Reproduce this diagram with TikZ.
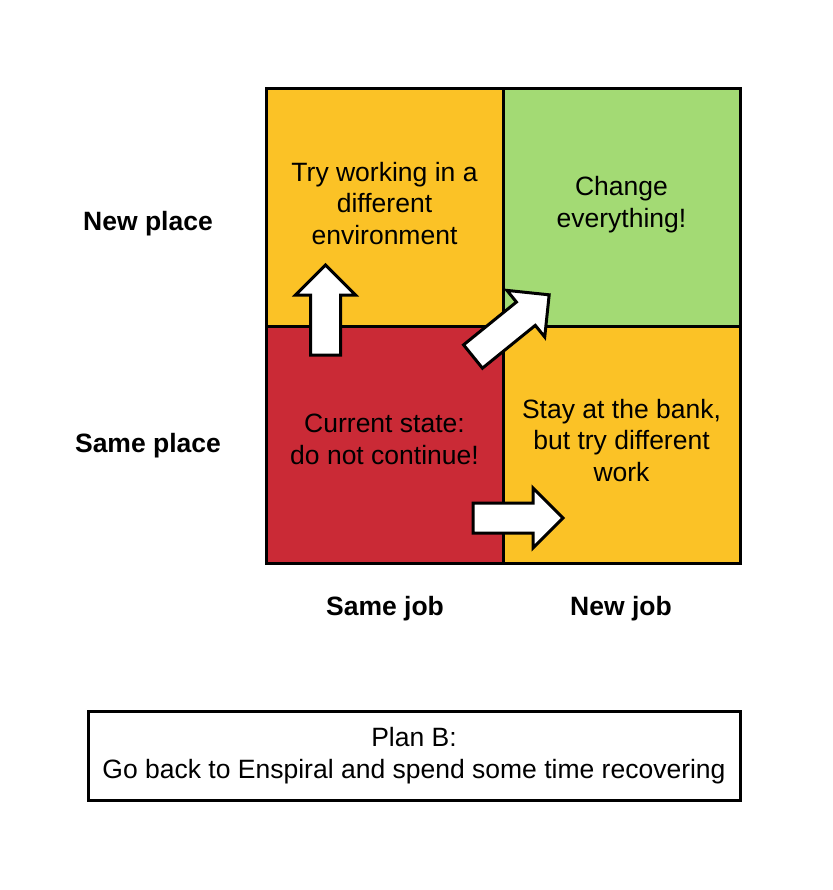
\documentclass[tikz,border=0pt]{standalone}
\usepackage{fontspec}
\setmainfont{Liberation Sans}
\usetikzlibrary{positioning}
\definecolor{cellamber}{HTML}{FBC226}
\definecolor{cellgreen}{HTML}{A3DA74}
\definecolor{cellred}{HTML}{CA2A36}
\newcommand{\quadfont}{\fontsize{26.5}{31.5}\selectfont}
% block arrow: tail x, tail y, angle, length
\newcommand{\blockarrow}[4]{%
  \draw[blockarr, shift={(#1,#2)}, rotate=#3]
    (0,15) -- ({#4-30},15) -- ({#4-30},30) -- (#4,0)
    -- ({#4-30},-30) -- ({#4-30},-15) -- (0,-15) -- cycle;}
\tikzset{
  cell/.style={draw=black, line width=3pt, minimum width=237pt, minimum height=237pt,
               inner sep=0pt},
  celltext/.style={align=center, text=black, font=\quadfont},
  axislbl/.style={font=\quadfont\bfseries, text=black},
  planbox/.style={draw=black, line width=3pt, minimum width=652pt, minimum height=89pt,
                  align=center, font=\quadfont, fill=white},
  blockarr/.style={draw=black, fill=white, line width=3pt, line join=miter}
}
\begin{document}
\begin{tikzpicture}[x=1pt,y=-1pt]
  \fill[white] (0,0) rectangle (832,890);
  \useasboundingbox (0,0) rectangle (832,890);

  % the four quadrants
  \node[cell, fill=cellamber] (tryenv) at (384.5,207.5) {};
  \node[cell, fill=cellgreen] (change) at (621.5,207.5) {};
  \node[cell, fill=cellred]   (current) at (384.5,444.5) {};
  \node[cell, fill=cellamber] (staybank) at (621.5,444.5) {};
  \node[celltext] (tryenvtxt) at ([yshift=4pt]tryenv.center) {Try working in a\\different\\environment};
  \node[celltext] (changetxt) at ([yshift=3pt]change.center) {Change\\everything!};
  \node[celltext] (currenttxt) at ([yshift=5pt]current.center) {Current state:\\do not continue!};
  \node[celltext] (staybanktxt) at ([yshift=4pt]staybank.center) {Stay at the bank,\\but try different\\work};

  % axis labels
  \node[axislbl] (newplace) at (148,224) {New place};
  \node[axislbl] (sameplace) at (148,446) {Same place};
  \node[axislbl] (samejob) at (385,609) {Same job};
  \node[axislbl] (newjob) at (621,609) {New job};

  % moves out of the current state
  \blockarrow{325.5}{355}{90}{90}
  \blockarrow{473}{356.5}{39}{98}
  \blockarrow{473}{518}{0}{90}

  \node[planbox] (planb) at (414,755.5) {Plan B:\\Go back to Enspiral and spend some time recovering};
\end{tikzpicture}
\end{document}
